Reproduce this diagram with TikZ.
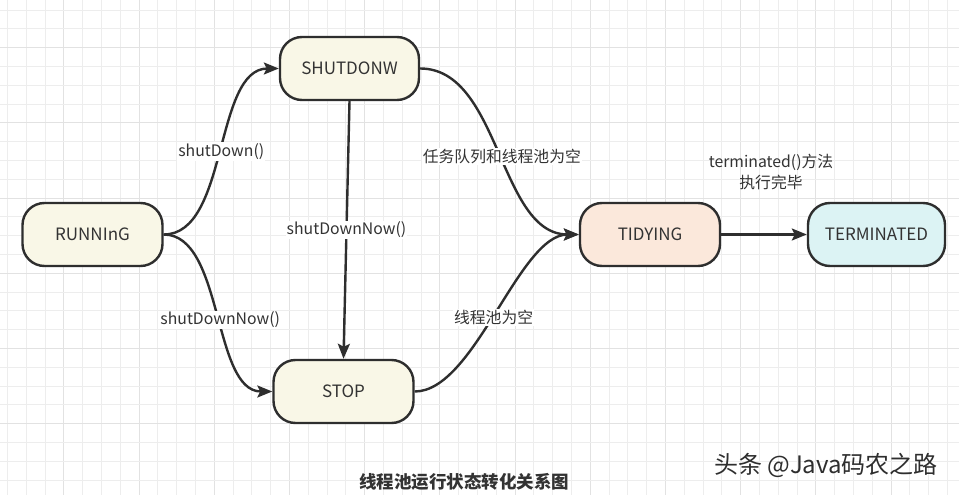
\documentclass[tikz,border=0pt]{standalone}
\usepackage{fontspec}
\setmainfont{Noto Sans CJK SC}
\usetikzlibrary{arrows.meta}
\definecolor{ink}{HTML}{2E2E2E}
\definecolor{txt}{HTML}{333333}
\definecolor{cream}{HTML}{F9F7E7}
\definecolor{peach}{HTML}{FBE8DB}
\definecolor{aqua}{HTML}{DCF3F4}
\definecolor{gminor}{HTML}{EDEDED}
\definecolor{gmajor}{HTML}{E2E2E2}
\tikzset{
  statebox/.style={draw=ink, line width=2.4pt, rounded corners=22pt,
    minimum width=140pt, minimum height=63pt, inner sep=0pt,
    text=txt, font=\fontsize{17}{20}\selectfont},
  edge/.style={draw=ink, line width=2.4pt,
    -{Stealth[length=15pt,width=12pt,inset=3pt]}},
  lbl/.style={fill=white, text=txt, inner sep=1pt, font=\fontsize{15.8}{18}\selectfont},
  plain/.style={text=txt, inner sep=0pt, font=\fontsize{15.8}{21}\selectfont, align=center},
}
\begin{document}
\begin{tikzpicture}[x=1pt,y=-1pt]
\useasboundingbox (0,0) rectangle (959,495);
\fill[white] (0,0) rectangle (959,495);
% grid
\foreach \i in {0,...,51} {
  \pgfmathtruncatemacro{\m}{mod(\i,4)}
  \ifnum\m=3
    \draw[gmajor, line width=0.8pt] ({7.3+18.8*\i},0) -- ({7.3+18.8*\i},495);
  \else
    \draw[gminor, line width=0.8pt] ({7.3+18.8*\i},0) -- ({7.3+18.8*\i},495);
  \fi
}
\foreach \i in {0,...,26} {
  \pgfmathtruncatemacro{\m}{mod(\i,4)}
  \ifnum\m=2
    \draw[gmajor, line width=0.8pt] (0,{10+18.8*\i}) -- (959,{10+18.8*\i});
  \else
    \draw[gminor, line width=0.8pt] (0,{10+18.8*\i}) -- (959,{10+18.8*\i});
  \fi
}
% nodes
\node[statebox, fill=cream] (run) at (92.5,234.5) {RUNNInG};
\node[statebox, fill=cream, minimum width=139pt] (shut) at (349.5,68.5) {SHUTDONW};
\node[statebox, fill=cream] (stop) at (343.5,391.5) {STOP};
\node[statebox, fill=peach] (tidy) at (650,234.5) {TIDYING};
\node[statebox, fill=aqua, minimum width=137pt] (term) at (876.5,234.5) {TERMINATED};
% edges
\draw[edge] (run.east) .. controls +(65,0) and +(-65,0) .. node[lbl]{shutDown()} (shut.west);
\draw[edge] (run.east) .. controls +(60,0) and +(-60,0) .. node[lbl, pos=0.53]{shutDownNow()} (stop.west);
\draw[edge] (shut.south) -- node[lbl, pos=0.5]{shutDownNow()} (stop.north);
\draw[edge] (shut.east) .. controls +(80,0) and +(-80,0) .. node[lbl, pos=0.52]{任务队列和线程池为空} (tidy.west);
\draw[edge] (stop.east) .. controls +(60,0) and +(-60,0) .. node[lbl, pos=0.48]{线程池为空} (tidy.west);
\draw[edge] (tidy.east) -- (term.west);
\node[plain] (tlbl) at (771,172) {terminated()方法\\执行完毕};
% caption
\node[text=txt, font=\fontsize{17.5}{20}\selectfont\bfseries] (cap) at (464,482) {线程池运行状态转化关系图};
\node[text=ink, font=\fontsize{24}{27}\selectfont] (wm) at (826,465) {头条 @Java码农之路};
\end{tikzpicture}
\end{document}
